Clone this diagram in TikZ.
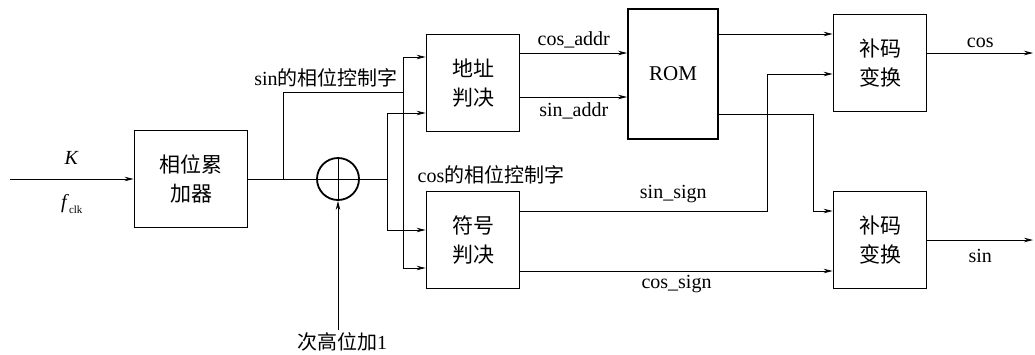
\documentclass[tikz,border=0pt]{standalone}
\usepackage{fontspec}
\setmainfont{Liberation Serif}
\newfontfamily\cjk{Noto Sans CJK SC}
\usetikzlibrary{arrows.meta, positioning}

\begin{document}
\begin{tikzpicture}[x=1pt, y=-1pt, on grid, line width=0.8pt, >={Stealth[length=9pt, width=4.5pt]},
        blk/.style={draw, line width=1.8pt, minimum width=93pt, minimum height=97pt, align=center,
            font=\cjk\fontsize{21}{29}\selectfont},
        lbl/.style={font=\fontsize{20}{24}\selectfont, inner sep=2pt}]
        \useasboundingbox (0,0) rectangle (1035,354);

        \node[blk, minimum width=113pt] (acc) at (191,179) {相位累\\加器};
        \node[circle, draw, line width=1.8pt, minimum size=42pt, inner sep=0pt] (sum) [right=147pt of acc] {};
        \node[blk] (addr) [above right=96pt and 135pt of sum] {地址\\判决};
        \node[blk] (sgn) [below=157pt of addr] {符号\\判决};
        \node[blk, minimum width=90pt, minimum height=130pt, font=\fontsize{21}{24}\selectfont] (rom) [above right=9pt and 200pt of addr] {ROM};
        \node[blk] (cmpcos) [above right=11pt and 207pt of rom] {补码\\变换};
        \node[blk] (cmpsin) [below=177pt of cmpcos] {补码\\变换};
        \node[lbl] (lsb) at (342,342) {{\cjk 次高位加}1};
        \node[lbl] (sinword) at (326,78) {sin{\cjk 的相位控制字}};
        \node[lbl] (cosword) at (491,175) {cos{\cjk 的相位控制字}};

        \coordinate (kin) at (10,179);
        \coordinate (j1) at (283,179);
        \coordinate (bus1) at (403,92);
        \coordinate (bus1t) at (403,57);
        \coordinate (bus1b) at (403,268);
        \coordinate (j2) at (387,179);
        \coordinate (bus2t) at (387,113);
        \coordinate (bus2b) at (387,230);
        \coordinate (sinsgn) at (767,211);
        \coordinate (sinrom) at (813,114);
        \coordinate (cosout) at (1033,53);
        \coordinate (sinout) at (1033,240);

        \draw[->] (kin) -- node[lbl, above=12pt] {\textit{K}}
            node[lbl, below=13pt] {\textit{f}\raisebox{-0.5ex}{\fontsize{11}{11}\selectfont clk}} (acc);
        \draw (acc) -- (sum);
        \draw (sum.north) -- (sum.south) (sum.west) -- (sum.east);
        \draw[->] (sum |- lsb.north) -- (sum);
        \draw (j1) |- (bus1);
        \draw (bus1t) -- (bus1b);
        \draw[->] (bus1t) -- (bus1t -| addr.west);
        \draw[->] (bus1b) -- (bus1b -| sgn.west);
        \draw (sum) -- (j2);
        \draw (bus2t) -- (bus2b);
        \draw[->] (bus2t) -- (bus2t -| addr.west);
        \draw[->] (bus2b) -- (bus2b -| sgn.west);

        \draw[->] ([yshift=30pt]addr.east) -- node[lbl, above=3pt] {cos\_addr} ([yshift=30pt]addr.east -| rom.west);
        \draw[->] ([yshift=-14pt]addr.east) -- node[lbl, below=3pt] {sin\_addr} ([yshift=-14pt]addr.east -| rom.west);
        \draw[->] ([yshift=40pt]rom.east) -- ([yshift=40pt]rom.east -| cmpcos.west);
        \draw[->] (sinrom -| rom.east) -- (sinrom) |- ([yshift=29pt]cmpsin.west);
        \draw[->] (sinsgn -| sgn.east) -- node[lbl, above=6pt, pos=0.62] {sin\_sign} (sinsgn) |- ([yshift=-11pt]cmpcos.west);
        \draw[->] ([yshift=-31pt]sgn.east) -- node[lbl, below=2pt] {cos\_sign} ([yshift=-31pt]cmpsin.west);
        \draw[->] (cosout -| cmpcos.east) -- node[lbl, above=3pt] {cos} (cosout);
        \draw[->] (cmpsin) -- node[lbl, below=7pt] {sin} (sinout);
\end{tikzpicture}
\end{document}
